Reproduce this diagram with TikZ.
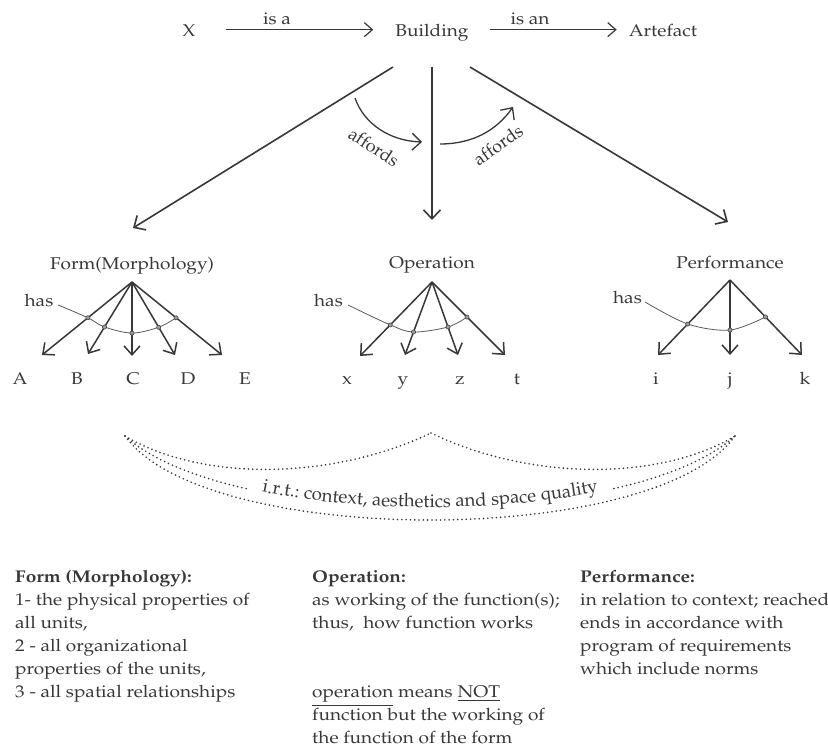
\documentclass[tikz,border=0pt]{standalone}
\usepackage[T1]{fontenc}
\usepackage{mathpazo}
\usetikzlibrary{arrows.meta,decorations.text,calc}
\definecolor{ink}{HTML}{383838}
\definecolor{inkl}{HTML}{5a5a5a}
\begin{document}
\begin{tikzpicture}[x=1pt,y=-1pt,
  lbl/.style={font=\fontsize{17}{24}\selectfont, text=ink, inner sep=0pt, xscale=1.12},
  toparr/.style={draw=ink, line width=1.2pt, -{Straight Barb[length=8pt,width=14pt]}},
  bigarr/.style={draw=ink, line width=1.6pt, -{Straight Barb[length=9pt,width=17pt]}},
  subarr/.style={draw=ink, line width=1.5pt, -{Straight Barb[length=9pt,width=16pt]}},
  hasline/.style={draw=inkl, line width=0.8pt},
  hasdot/.style={draw=ink, fill=inkl!60, line width=0.5pt},
  dotline/.style={draw=ink, line width=1.8pt, line cap=round, dash pattern=on 0pt off 4.3pt},
  afflbl/.style={font=\fontsize{18}{18}\selectfont, text=ink, inner sep=0pt},
  block/.style={font=\fontsize{17}{23.1}\selectfont, text=ink, inner sep=0pt, xscale=1.12,
                anchor=north west, align=left},
]
\useasboundingbox[fill=white] (0,0) rectangle (828,751);

% ---------- top row ----------
\node[lbl, anchor=base] (X) at (189,37) {X};
\node[lbl, anchor=base] (Building) at (432,37) {Building};
\node[lbl, anchor=base] (Artefact) at (663,37) {Artefact};
\node[lbl, anchor=base] (isa) at (277,25) {is a};
\node[lbl, anchor=base] (isan) at (530,25) {is an};
\draw[toparr] ([xshift=30pt,yshift=5pt]X.mid east) -- ([xshift=-22pt,yshift=5pt]Building.mid west);
\draw[toparr] ([xshift=21pt,yshift=5pt]Building.mid east) -- ([xshift=-12pt,yshift=5pt]Artefact.mid west);

% ---------- main branches ----------
\coordinate (bL) at (393,67);
\coordinate (bM) at (432,67);
\coordinate (bR) at (470,67);
\coordinate (tipF) at (133,228);
\coordinate (tipO) at (432,220);
\coordinate (tipP) at (728,222);
\draw[bigarr] (bL) -- (tipF);
\draw[bigarr] (bM) -- (tipO);
\draw[bigarr] (bR) -- (tipP);

% affords
\coordinate (af1s) at (355,98);
\coordinate (af1e) at (422,142);
\coordinate (af2s) at (440,144);
\coordinate (af2e) at (513,107);
\draw[bigarr, line width=1.3pt] (af1s) .. controls (364,124) and (390,141) .. (af1e);
\draw[bigarr, line width=1.3pt] (af2s) .. controls (472,144) and (496,131) .. (af2e);
\node[afflbl, rotate=-33] (aff1) at (374,147) {affords};
\node[afflbl, rotate=35] (aff2) at (498,145) {affords};

% ---------- Form group ----------
\node[lbl, anchor=base] (Form) at (132,270) {Form(Morphology)};
\coordinate (fApex) at (132,282);
\coordinate (fTa) at (42,355);
\coordinate (fTb) at (88,354);
\coordinate (fTc) at (132,356);
\coordinate (fTd) at (175,355);
\coordinate (fTe) at (222,355);
\foreach \n/\x in {A/20,B/77,C/133,D/188,E/245}
  \node[lbl, anchor=base] (L\n) at (\x,385) {\n};
\foreach \t in {a,b,c,d,e} \draw[subarr] (fApex) -- (fT\t);
\node[lbl, anchor=base] (fHas) at (39,307) {has};
\coordinate (fHs) at ([xshift=4.5pt,yshift=2pt]fHas.base east);
\coordinate (fd1) at ($(fApex)!0.49!(fTa)$);
\coordinate (fd2) at ($(fApex)!0.625!(fTb)$);
\coordinate (fd3) at ($(fApex)!0.69!(fTc)$);
\coordinate (fd4) at ($(fApex)!0.62!(fTd)$);
\coordinate (fd5) at ($(fApex)!0.49!(fTe)$);
\draw[hasline] plot[smooth, tension=0.55] coordinates {(fHs) (fd1) (fd2) (fd3) (fd4) (fd5)};
\foreach \d in {fd1,fd2,fd3,fd4,fd5} \filldraw[hasdot] (\d) circle (2.1pt);

% ---------- Operation group ----------
\node[lbl, anchor=base] (Operation) at (432,269) {Operation};
\coordinate (oApex) at (432,282);
\coordinate (oTx) at (360,356);
\coordinate (oTy) at (405,355);
\coordinate (oTz) at (458,355);
\coordinate (oTt) at (505,355);
\foreach \n/\x in {x/347,y/403,z/460,t/517}
  \node[lbl, anchor=base] (L\n) at (\x,385) {\n};
\foreach \t in {x,y,z,t} \draw[subarr] (oApex) -- (oT\t);
\node[lbl, anchor=base] (oHas) at (328.5,307) {has};
\coordinate (oHs) at ([xshift=5pt,yshift=2pt]oHas.base east);
\coordinate (od1) at ($(oApex)!0.58!(oTx)$);
\coordinate (od2) at ($(oApex)!0.685!(oTy)$);
\coordinate (od3) at ($(oApex)!0.616!(oTz)$);
\coordinate (od4) at ($(oApex)!0.48!(oTt)$);
\draw[hasline] plot[smooth, tension=0.55] coordinates {(oHs) (od1) (od2) (od3) (od4)};
\foreach \d in {od1,od2,od3,od4} \filldraw[hasdot] (\d) circle (2.1pt);

% ---------- Performance group ----------
\node[lbl, anchor=base] (Performance) at (730,269) {Performance};
\coordinate (pApex) at (730,280);
\coordinate (pTi) at (658,355);
\coordinate (pTj) at (730,355);
\coordinate (pTk) at (802,355);
\foreach \n/\x in {i/656,j/730,k/805}
  \node[lbl, anchor=base] (L\n) at (\x,385) {\n};
\foreach \t in {i,j,k} \draw[subarr] (pApex) -- (pT\t);
\node[lbl, anchor=base] (pHas) at (627.5,304) {has};
\coordinate (pHs) at ([xshift=3pt,yshift=2pt]pHas.base east);
\coordinate (pd1) at ($(pApex)!0.587!(pTi)$);
\coordinate (pd2) at ($(pApex)!0.667!(pTj)$);
\coordinate (pd3) at ($(pApex)!0.493!(pTk)$);
\draw[hasline] plot[smooth, tension=0.55] coordinates {(pHs) (pd1) (pd2) (pd3)};
\foreach \d in {pd1,pd2,pd3} \filldraw[hasdot] (\d) circle (2.1pt);

% ---------- dotted relations ----------
\coordinate (dL) at (125,436);
\coordinate (dM) at (431,433);
\coordinate (dR) at (735,436);
\draw[dotline] (dL) .. controls (200,481) and (330,481) .. (dM);
\draw[dotline] (dM) .. controls (530,481) and (660,481) .. (dR);
\draw[dotline] (dL) .. controls (151.25,459.75) and (195.94,477.56) .. (249.84,489.44);
\draw[dotline] (dR) .. controls (708.75,459.75) and (664.06,477.56) .. (610.16,489.44);
\path[decorate, decoration={text along path, text align=center, text color=ink,
  text={|\fontsize{18.5}{18.5}\selectfont|i.r.t.: context, aesthetics and space quality}}]
  (dL) .. controls (230,531) and (630,531) .. (dR);
\draw[dotline] (dL) .. controls (205,548) and (655,548) .. (dR);

% ---------- bottom text ----------
\node[block] (tForm) at (15,569) {\rule{0pt}{13pt}\textbf{Form (Morphology):}\\
1- the physical properties of\\
all units,\\
2 - all organizational\\
properties of the units,\\
3 - all spatial relationships};
\node[block] (tOper) at (312,569) {\rule{0pt}{13pt}\textbf{Operation:}\\
as working of the function(s);\\
thus,\ \ how function works\\[46.2pt]
\underline{operation} means \underline{NOT}\\
function but the working of\\
the function of the form};
\node[block] (tPerf) at (580,569) {\rule{0pt}{13pt}\textbf{Performance:}\\
in relation to context; reached\\
ends in accordance with\\
program of requirements\\
which include norms};
\end{tikzpicture}
\end{document}
